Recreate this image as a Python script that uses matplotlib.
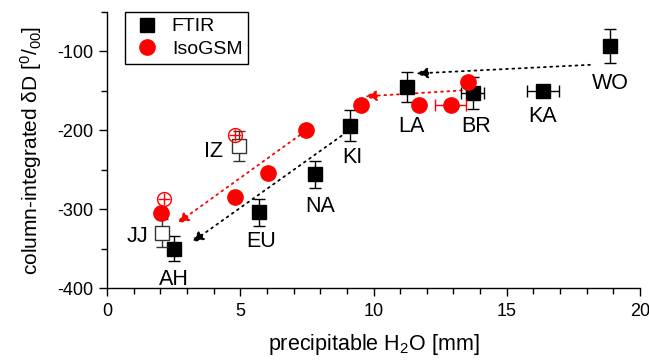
import numpy as np
import matplotlib
matplotlib.use('Agg')
import matplotlib.pyplot as plt
from matplotlib.ticker import MultipleLocator

plt.rcParams['font.family'] = ['Liberation Sans', 'DejaVu Sans']
plt.rcParams['mathtext.fontset'] = 'custom'
plt.rcParams['mathtext.rm'] = 'Liberation Sans'
plt.rcParams['mathtext.it'] = 'Liberation Sans:italic'
plt.rcParams['axes.unicode_minus'] = False

# FTIR stations (filled squares)
ftir_site = ['WO', 'KA', 'BR', 'LA', 'KI', 'NA', 'EU', 'AH']
ftir_pw = [18.87, 16.35, 13.72, 11.27, 9.12, 7.80, 5.70, 2.51]
ftir_dd = [-93, -150, -153, -145, -194, -256, -304, -350]
ftir_dd_err = [22, 0, 20, 19, 20, 17, 17, 16]
ftir_pw_err = [0, 0.61, 0.42, 0, 0, 0, 0, 0]
ftir_label_pos = [(18.9, -141), (16.36, -183), (13.85, -195), (11.44, -195),
                  (9.19, -235), (7.99, -297), (5.78, -341), (2.51, -389)]

# FTIR stations (open squares)
open_site = ['JJ', 'IZ']
open_pw = [2.08, 4.95]
open_dd = [-330, -220]
open_dd_err = [17.5, 19]
open_label_pos = [(1.16, -335), (3.98, -227)]

# IsoGSM model values
iso_pw = [13.56, 12.90, 11.72, 9.52, 7.47, 6.03, 4.80, 2.01]
iso_dd = [-139, -168, -168, -168, -200, -254, -284, -305]
iso_pw_err = [0, 0.58, 0, 0, 0, 0, 0, 0]

# IsoGSM at the open-square sites
cross_pw = [4.82, 2.14]
cross_dd = [-206, -287]

# dotted arrows: (start, end, colour)
arrow_start = [(18.12, -117), (8.80, -207), (13.55, -149), (7.24, -206)]
arrow_end = [(11.6, -128), (3.18, -342), (9.68, -157), (2.63, -318)]
arrow_color = ['black', 'black', 'red', 'red']

fig = plt.figure(figsize=(6.49, 3.62), dpi=100)
ax = fig.add_axes([0.1649, 0.2044, 0.8213, 0.7625])

for (x0, y0), (x1, y1), c in zip(arrow_start, arrow_end, arrow_color):
    ax.annotate('', xy=(x1, y1), xytext=(x0, y0),
                arrowprops=dict(arrowstyle='-|>,head_length=0.7,head_width=0.32',
                                linestyle=(0, (1, 2.5)), lw=1.3, color=c,
                                shrinkA=0, shrinkB=0), zorder=2)

ftir_pw = np.array(ftir_pw)
ftir_dd = np.array(ftir_dd)
ftir_pw_err = np.array(ftir_pw_err)
ax.errorbar(ftir_pw, ftir_dd, yerr=ftir_dd_err, fmt='none', ecolor='black',
            elinewidth=1, capsize=4, capthick=1, zorder=3)
m = ftir_pw_err > 0
ax.errorbar(ftir_pw[m], ftir_dd[m], xerr=ftir_pw_err[m], fmt='none',
            ecolor='black', elinewidth=1, capsize=4, capthick=1, zorder=3)
ax.plot(ftir_pw, ftir_dd, 's', color='black', ms=10, zorder=4, label='FTIR')

ax.errorbar(open_pw, open_dd, yerr=open_dd_err, fmt='s', mfc='white',
            mec='#333333', ecolor='#333333', ms=10, mew=1, elinewidth=1,
            capsize=4, capthick=1, zorder=4)

iso_pw = np.array(iso_pw)
iso_dd = np.array(iso_dd)
iso_pw_err = np.array(iso_pw_err)
m = iso_pw_err > 0
ax.errorbar(iso_pw[m], iso_dd[m], xerr=iso_pw_err[m], fmt='none', ecolor='red',
            elinewidth=1, capsize=4, capthick=1, zorder=5)
ax.plot(iso_pw, iso_dd, 'o', color='red', ms=11, zorder=6, label='IsoGSM')

ax.plot(cross_pw, cross_dd, 'o', mfc='none', mec='red', ms=10, mew=1, zorder=6)
ax.plot(cross_pw, cross_dd, '+', color='red', ms=9, mew=1, zorder=6)

for name, (x, y) in zip(ftir_site + open_site, ftir_label_pos + open_label_pos):
    ax.text(x, y, name, fontsize=15.5, ha='center', va='center')

ax.set_xlim(0, 20)
ax.set_ylim(-400, -50)
ax.xaxis.set_major_locator(MultipleLocator(5))
ax.xaxis.set_minor_locator(MultipleLocator(1))
ax.yaxis.set_major_locator(MultipleLocator(100))
ax.yaxis.set_minor_locator(MultipleLocator(50))
ax.tick_params(which='major', direction='out', length=6, width=1, labelsize=13)
ax.tick_params(axis='x', which='major', pad=5)
ax.tick_params(which='minor', direction='out', length=4, width=1)
for s in ['top', 'right']:
    ax.spines[s].set_visible(False)
for s in ['left', 'bottom']:
    ax.spines[s].set_linewidth(1)

ax.set_xlabel(r'precipitable H$_2$O [mm]', fontsize=15.5)
ax.set_ylabel(r'column-integrated δD [$^{0}/_{00}$]', fontsize=15)
ax.xaxis.set_label_coords(0.5, -0.16)
ax.yaxis.set_label_coords(-0.118, 0.5)

leg = ax.legend(loc='upper left', bbox_to_anchor=(0.034, 1.0), fontsize=14,
                frameon=True, fancybox=False, edgecolor='black', framealpha=1,
                borderaxespad=0, handletextpad=0.5, handlelength=1.6,
                borderpad=0.3, labelspacing=0.25, numpoints=1)
leg.get_frame().set_linewidth(1)

fig.savefig('out.png', dpi=100)
